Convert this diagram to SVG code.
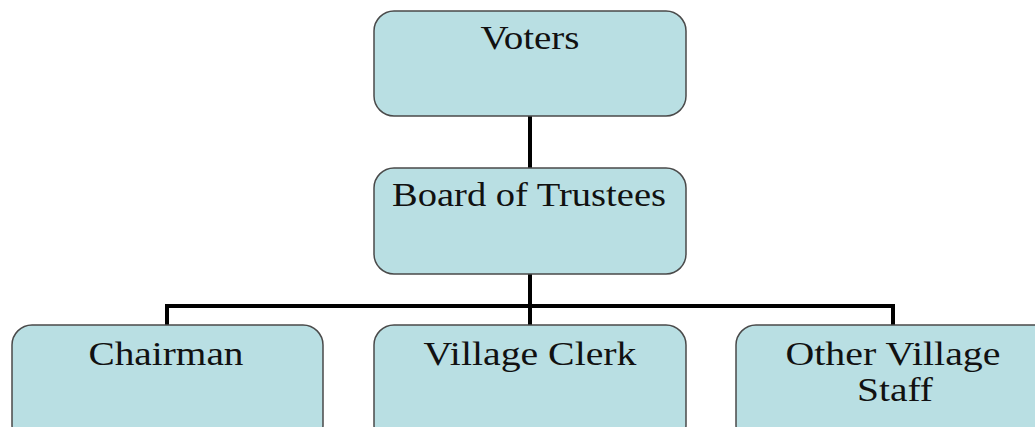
<svg xmlns="http://www.w3.org/2000/svg" width="1035" height="427" viewBox="0 0 1035 427">
<style>
.box{fill:#b9dfe3;stroke:#4a4a4a;stroke-width:1.5}
.lbl{font-family:"Liberation Serif","Times New Roman",serif;font-size:34px;fill:#111;text-anchor:middle}
.conn{fill:none;stroke:#000;stroke-width:4;stroke-linejoin:miter;stroke-linecap:butt}
</style>
<rect width="1035" height="427" fill="#fff"/>
<g id="connectors">
<path class="conn" d="M530 116V168"/>
<path class="conn" d="M530 274V325"/>
<path class="conn" d="M167 325V306H893V325"/>
</g>
<g id="voters">
<rect class="box" x="374" y="11" width="312" height="105" rx="20"/>
<text class="lbl" x="530" y="49" textLength="99" lengthAdjust="spacingAndGlyphs">Voters</text>
</g>
<g id="board">
<rect class="box" x="374" y="168" width="312" height="106" rx="20"/>
<text class="lbl" x="529" y="205.5" textLength="274" lengthAdjust="spacingAndGlyphs">Board of Trustees</text>
</g>
<g id="chairman">
<rect class="box" x="12" y="325" width="311" height="120" rx="20"/>
<text class="lbl" x="166" y="364.5" textLength="155" lengthAdjust="spacingAndGlyphs">Chairman</text>
</g>
<g id="clerk">
<rect class="box" x="374" y="325" width="312" height="120" rx="20"/>
<text class="lbl" x="530" y="364.5" textLength="213" lengthAdjust="spacingAndGlyphs">Village Clerk</text>
</g>
<g id="staff">
<rect class="box" x="736" y="325" width="320" height="120" rx="20"/>
<text class="lbl" x="893" y="364.5" textLength="215" lengthAdjust="spacingAndGlyphs">Other Village</text>
<text class="lbl" x="895" y="401" textLength="76" lengthAdjust="spacingAndGlyphs">Staff</text>
</g>
</svg>
